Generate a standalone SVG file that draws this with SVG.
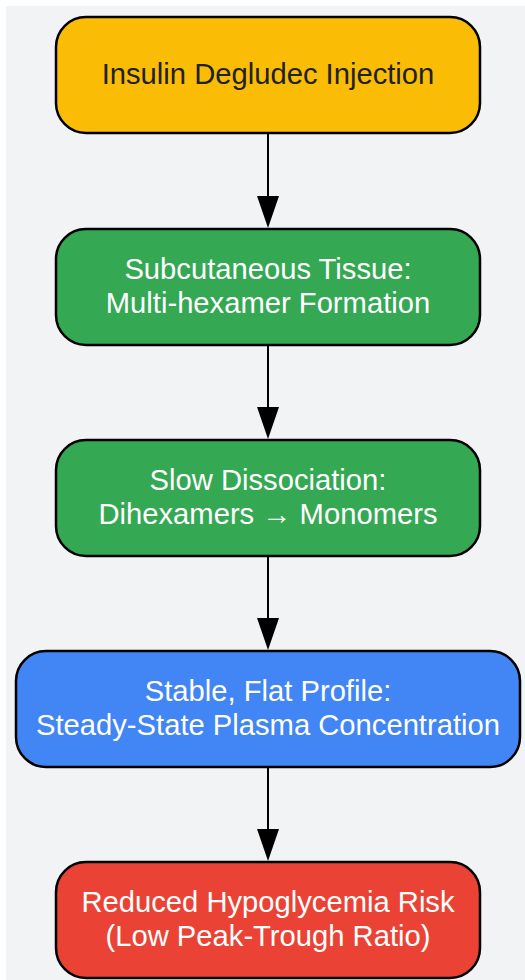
<svg xmlns="http://www.w3.org/2000/svg" width="525" height="980" viewBox="0 0 525 980">
<defs>
<style>
.node rect{stroke:#000;stroke-width:2.5}
.node text{font-family:"Liberation Sans",Arial,sans-serif;font-size:29.2px;text-anchor:middle}
.light text{fill:#ffffff}
.dark text{fill:#202124}
.edge{stroke:#000;stroke-width:2;fill:none}
</style>
</defs>
<rect x="6" y="6" width="519" height="974" fill="#f1f3f5"/>
<g id="connectors">
<line class="edge" x1="268" y1="133" x2="268" y2="197"/>
<path d="M257,196 L279,196 L268,228 Z" fill="#000"/>
<line class="edge" x1="268" y1="345" x2="268" y2="408"/>
<path d="M257,407 L279,407 L268,439 Z" fill="#000"/>
<line class="edge" x1="268" y1="556" x2="268" y2="619"/>
<path d="M257,618 L279,618 L268,650 Z" fill="#000"/>
<line class="edge" x1="268" y1="767" x2="268" y2="830"/>
<path d="M257,829 L279,829 L268,861 Z" fill="#000"/>
</g>
<g id="node1" class="node dark">
<rect x="56" y="17" width="424" height="116" rx="30" fill="#fbbc05"/>
<text x="268" y="84">Insulin Degludec Injection</text>
</g>
<g id="node2" class="node light">
<rect x="56" y="229" width="424" height="116" rx="30" fill="#34a853"/>
<text x="268" y="279">Subcutaneous Tissue:</text>
<text x="268" y="313">Multi-hexamer Formation</text>
</g>
<g id="node3" class="node light">
<rect x="56" y="440" width="424" height="116" rx="30" fill="#34a853"/>
<text x="268" y="490">Slow Dissociation:</text>
<text x="268" y="524">Dihexamers → Monomers</text>
</g>
<g id="node4" class="node light">
<rect x="16" y="651" width="504" height="116" rx="30" fill="#4285f4"/>
<text x="268" y="701">Stable, Flat Profile:</text>
<text x="268" y="735">Steady-State Plasma Concentration</text>
</g>
<g id="node5" class="node light">
<rect x="56" y="862" width="424" height="116" rx="30" fill="#ea4335"/>
<text x="268" y="912">Reduced Hypoglycemia Risk</text>
<text x="268" y="946">(Low Peak-Trough Ratio)</text>
</g>
</svg>
